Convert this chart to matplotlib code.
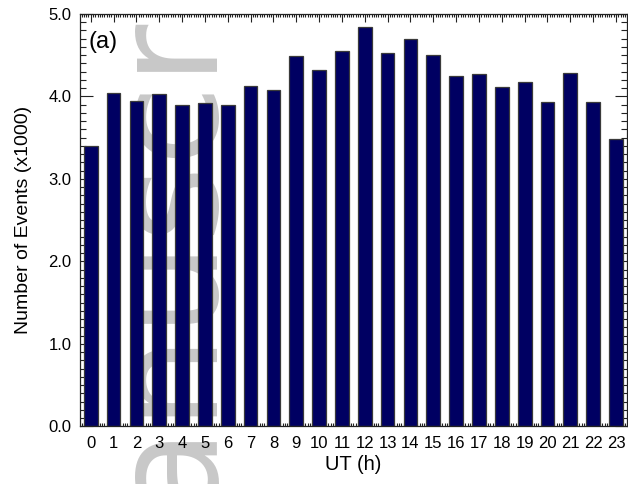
import matplotlib
matplotlib.use("Agg")
import matplotlib.pyplot as plt
from matplotlib.ticker import MultipleLocator, FormatStrFormatter

plt.rcParams['font.family'] = ['Liberation Sans', 'DejaVu Sans']

# Hourly event counts (thousands) by universal time
hours = list(range(24))
events_k = [3.40, 4.04, 3.94, 4.03, 3.90, 3.92, 3.89, 4.12, 4.08, 4.49,
            4.32, 4.55, 4.84, 4.52, 4.70, 4.50, 4.25, 4.27, 4.11, 4.17,
            3.93, 4.28, 3.93, 3.48]
hour_labels = [str(h) for h in hours]

fig = plt.figure(figsize=(6.28, 4.84), dpi=100)
ax = fig.add_axes([0.1274, 0.1192, 0.8706, 0.8523])

# faint background stamp
ax.text(209 / 628, 1 - 510 / 484, "anuscr", transform=fig.transFigure,
        rotation=90, rotation_mode='anchor', ha='left', va='baseline',
        fontsize=106, family='DejaVu Sans', color='#c8c8c8', zorder=0.5)

ax.bar(hours, events_k, width=0.6, color='#000062', edgecolor='#3a3a3a',
       linewidth=0.9, zorder=2)

ax.set_xlim(-0.47, 23.47)
ax.set_ylim(0, 5.0)
ax.set_xticks(hours)
ax.set_xticklabels(hour_labels)
ax.xaxis.set_minor_locator(MultipleLocator(0.1))
ax.yaxis.set_major_locator(MultipleLocator(1.0))
ax.yaxis.set_minor_locator(MultipleLocator(0.1))
ax.yaxis.set_major_formatter(FormatStrFormatter('%.1f'))

ax.tick_params(which='both', direction='in', top=True, right=True,
               color='#222222', width=0.8, labelsize=12, pad=6)
ax.tick_params(axis='x', which='major', length=6, pad=7)
ax.tick_params(axis='x', which='minor', length=2.5)
ax.tick_params(axis='y', which='major', length=9)
ax.tick_params(axis='y', which='minor', length=4.5)

for s in ax.spines.values():
    s.set_linewidth(0.9)
    s.set_color('#222222')

ax.set_xlabel('UT (h)', fontsize=14.5, labelpad=3)
ax.set_ylabel('Number of Events (x1000)', fontsize=14, labelpad=12)

ax.text(0.015, 0.958, '(a)', transform=ax.transAxes, ha='left', va='top',
        fontsize=17, zorder=3)

fig.savefig('out.png', dpi=100)
